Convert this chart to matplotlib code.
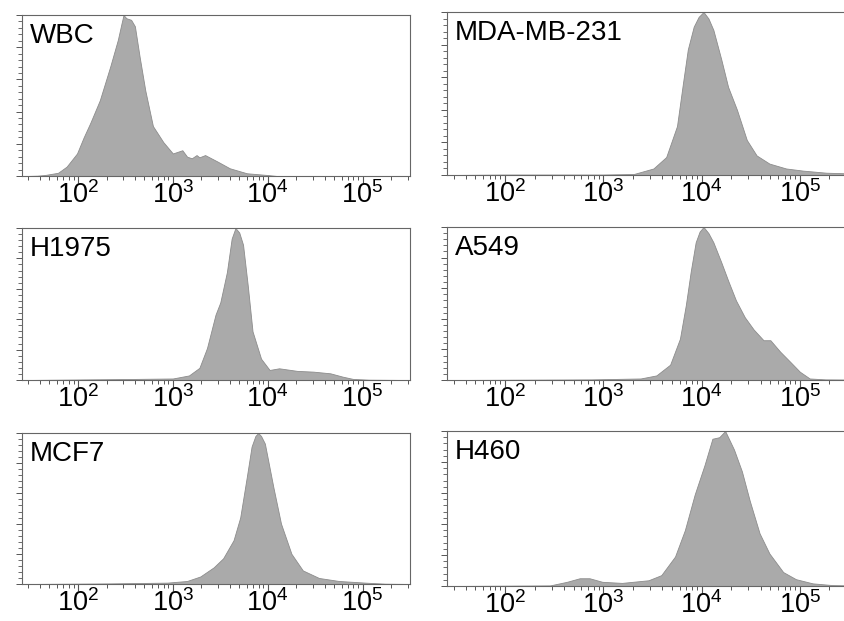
import numpy as np
import matplotlib
matplotlib.use("Agg")
import matplotlib.pyplot as plt
from matplotlib.ticker import MultipleLocator, LogLocator, NullFormatter

plt.rcParams['font.family'] = ['Liberation Sans', 'DejaVu Sans']
plt.rcParams['mathtext.fontset'] = 'custom'
plt.rcParams['mathtext.rm'] = 'Liberation Sans'
plt.rcParams['mathtext.default'] = 'regular'

# 荧光强度 (log10) 与归一化计数 (% of max)
wbc_x = [1.45, 1.57, 1.65, 1.79, 1.88, 1.99, 2.06, 2.13, 2.23, 2.34, 2.42, 2.46, 2.48, 2.51, 2.56, 2.60,
         2.65, 2.71, 2.79, 2.90, 3.00, 3.05, 3.10, 3.15, 3.20, 3.25, 3.28, 3.34, 3.47, 3.60, 3.78, 4.00, 4.10]
wbc_y = [0, 0.2, 0.6, 2, 5.8, 14, 24, 33, 47, 68, 84.5, 95, 100, 98, 97, 93,
         74, 53, 31, 21, 14, 15, 16, 12, 11, 13, 11.6, 13, 9, 4.8, 1.7, 0.6, 0]

mda_x = [1.45, 2.0, 3.0, 3.31, 3.51, 3.64, 3.75, 3.81, 3.86, 3.92, 3.97, 4.02, 4.07, 4.12, 4.20, 4.27,
         4.36, 4.46, 4.56, 4.69, 4.86, 5.03, 5.27, 5.5]
mda_y = [0, 0.3, 0.3, 0.6, 4, 11, 30, 56, 77, 91, 97, 100, 96, 89, 71, 54,
         40, 21.5, 12, 7, 4, 2.7, 1.4, 1.0]

h1975_x = [1.45, 2.59, 3.00, 3.17, 3.28, 3.36, 3.45, 3.50, 3.57, 3.62, 3.66, 3.70, 3.74, 3.79, 3.84,
           3.93, 4.02, 4.12, 4.31, 4.48, 4.66, 4.79, 4.90, 5.07, 5.5]
h1975_y = [0, 0.7, 1, 3, 8, 21, 43, 51, 71, 93, 100, 97, 89, 62, 32,
           14, 6.6, 7.7, 6, 5.5, 4.4, 2.2, 0.7, 0.2, 0]

a549_x = [1.45, 2.88, 3.38, 3.54, 3.68, 3.78, 3.84, 3.89, 3.94, 3.98, 4.02, 4.07, 4.12, 4.20, 4.27, 4.35,
          4.44, 4.53, 4.63, 4.70, 4.80, 4.90, 5.00, 5.10, 5.26, 5.5]
a549_y = [0, 0.4, 1, 3, 10, 27, 49, 71, 90, 97, 100, 96, 90, 77, 65, 52,
          41, 33, 26, 26, 18.5, 12, 5.4, 1, 0.4, 0.3]

mcf7_x = [1.45, 2.35, 2.94, 3.15, 3.29, 3.43, 3.53, 3.64, 3.71, 3.78, 3.83, 3.87, 3.90, 3.93, 3.97, 4.06,
          4.14, 4.25, 4.37, 4.54, 4.75, 5.03, 5.24, 5.5]
mcf7_y = [0, 0.4, 0.9, 2, 5, 11, 17, 29, 44, 71, 91, 98, 100, 98, 93, 64,
          40, 20, 9, 4, 2, 0.9, 0.2, 0]

h460_x = [1.45, 2.46, 2.63, 2.76, 2.86, 2.99, 3.19, 3.46, 3.59, 3.73, 3.83, 3.93, 4.03, 4.11,
          4.18, 4.24, 4.33, 4.41, 4.49, 4.59, 4.69, 4.83, 4.96, 5.13, 5.33, 5.5]
h460_y = [0, 0.4, 2.7, 5, 5, 2.7, 2, 3.7, 7, 19, 36, 59, 78, 95,
          96, 100, 88, 74, 55, 34, 21, 9, 4.4, 1.7, 0.6, 0.4]

names = ['WBC', 'MDA-MB-231', 'H1975', 'A549', 'MCF7', 'H460']
xs = [wbc_x, mda_x, h1975_x, a549_x, mcf7_x, h460_x]
ys = [wbc_y, mda_y, h1975_y, a549_y, mcf7_y, h460_y]

W, H = 844, 621
# 每个子图的像素框 (left, top, right, bottom)
boxes = [(22, 15, 410, 176), (447, 12, 849, 175),
         (22, 228, 410, 380), (447, 227, 849, 380),
         (22, 433, 410, 584), (447, 431, 849, 586)]

fig = plt.figure(figsize=(W / 100, H / 100), dpi=100)

for name, lx, y, (l, t, r, b) in zip(names, xs, ys, boxes):
    ax = fig.add_axes([l / W, 1 - b / H, (r - l) / W, (b - t) / H])
    x = 10 ** np.array(lx)
    ax.fill_between(x, y, 0, color='#aaaaaa', edgecolor='#8c8c8c', linewidth=0.6)
    ax.set_xscale('log')
    ax.set_xlim(10 ** 1.41, 10 ** 5.5)
    ax.set_ylim(0, 100)
    ax.xaxis.set_major_locator(LogLocator(base=10, numticks=10))
    ax.xaxis.set_minor_locator(LogLocator(base=10, subs=np.arange(2, 10), numticks=20))
    ax.xaxis.set_minor_formatter(NullFormatter())
    ax.yaxis.set_major_locator(MultipleLocator(20))
    ax.yaxis.set_minor_locator(MultipleLocator(4))
    ax.set_yticklabels([])
    ax.tick_params(axis='x', which='major', length=5, width=0.8, color='#555555',
                   labelsize=19.5, pad=-1)
    ax.tick_params(axis='x', which='minor', length=3, width=0.7, color='#555555')
    ax.tick_params(axis='y', which='major', length=4, width=0.7, color='#555555')
    ax.tick_params(axis='y', which='minor', length=3, width=0.6, color='#555555')
    for s in ax.spines.values():
        s.set_color('#666666')
        s.set_linewidth(0.8)
    ax.text(0.02, 0.95, name, transform=ax.transAxes, fontsize=20,
            ha='left', va='top')

fig.savefig('out.png', dpi=100)
